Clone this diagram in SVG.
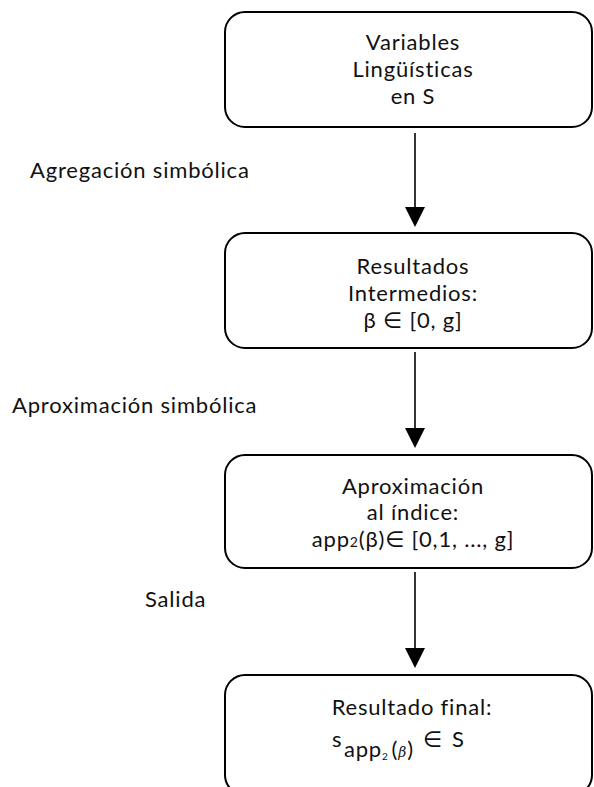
<svg xmlns="http://www.w3.org/2000/svg" width="594" height="787" viewBox="0 0 594 787">
  <style>
    .box { fill: #ffffff; stroke: #000000; stroke-width: 2; }
    .link { stroke: #000000; stroke-width: 1.6; fill: none; }
    .head { fill: #000000; }
    text { font-family: Lato, "Open Sans", "DejaVu Sans", sans-serif; font-size: 22px; letter-spacing: 0.8px; fill: #111111; }
    .c { text-anchor: middle; }
    .math { font-family: "DejaVu Serif", "Liberation Serif", serif; }
  </style>
  <rect width="594" height="787" fill="#ffffff"/>

  <g id="connectors">
    <line class="link" x1="415" y1="133" x2="415" y2="210"/>
    <path class="head" d="M405,207 L425,207 L415,227 Z"/>
    <line class="link" x1="415" y1="352" x2="415" y2="430"/>
    <path class="head" d="M405,428 L425,428 L415,448 Z"/>
    <line class="link" x1="415" y1="572" x2="415" y2="650"/>
    <path class="head" d="M405,648 L425,648 L415,668 Z"/>
  </g>

  <g id="node-variables">
    <rect class="box" x="225" y="12" width="367" height="115" rx="20" ry="20"/>
    <text class="c" x="413" y="50">Variables</text>
    <text class="c" x="413" y="77">Lingüísticas</text>
    <text class="c" x="413" y="104">en S</text>
  </g>

  <g id="node-intermedios">
    <rect class="box" x="225" y="233" width="367" height="115" rx="20" ry="20"/>
    <text class="c" x="413" y="274">Resultados</text>
    <text class="c" x="413" y="301">Intermedios:</text>
    <text class="c" x="413" y="328">β ∈ [0, g]</text>
  </g>

  <g id="node-aproximacion">
    <rect class="box" x="225" y="455" width="367" height="113" rx="20" ry="20"/>
    <text class="c" x="413" y="494">Aproximación</text>
    <text class="c" x="413" y="520">al índice:</text>
    <text class="c" x="413" y="547">app<tspan font-size="14">2</tspan>(β)∈ [0,1, ..., g]</text>
  </g>

  <g id="node-final">
    <rect class="box" x="225" y="675" width="367" height="120" rx="20" ry="20"/>
    <text class="c" x="412" y="715">Resultado final:</text>
    <text x="332" y="747" font-size="28" letter-spacing="0">s</text>
    <text x="344" y="757" font-size="15" letter-spacing="0">app<tspan font-size="10" dy="3">2</tspan><tspan dy="-3" dx="3">(</tspan><tspan class="math" font-style="italic" font-size="14">β</tspan>)</text>
    <text x="423" y="747" font-size="22" letter-spacing="0">∈</text>
    <text x="452" y="747" font-size="26" letter-spacing="0">S</text>
  </g>

  <g id="labels">
    <text x="30" y="178">Agregación simbólica</text>
    <text x="12" y="413">Aproximación simbólica</text>
    <text x="145" y="607">Salida</text>
  </g>
</svg>
